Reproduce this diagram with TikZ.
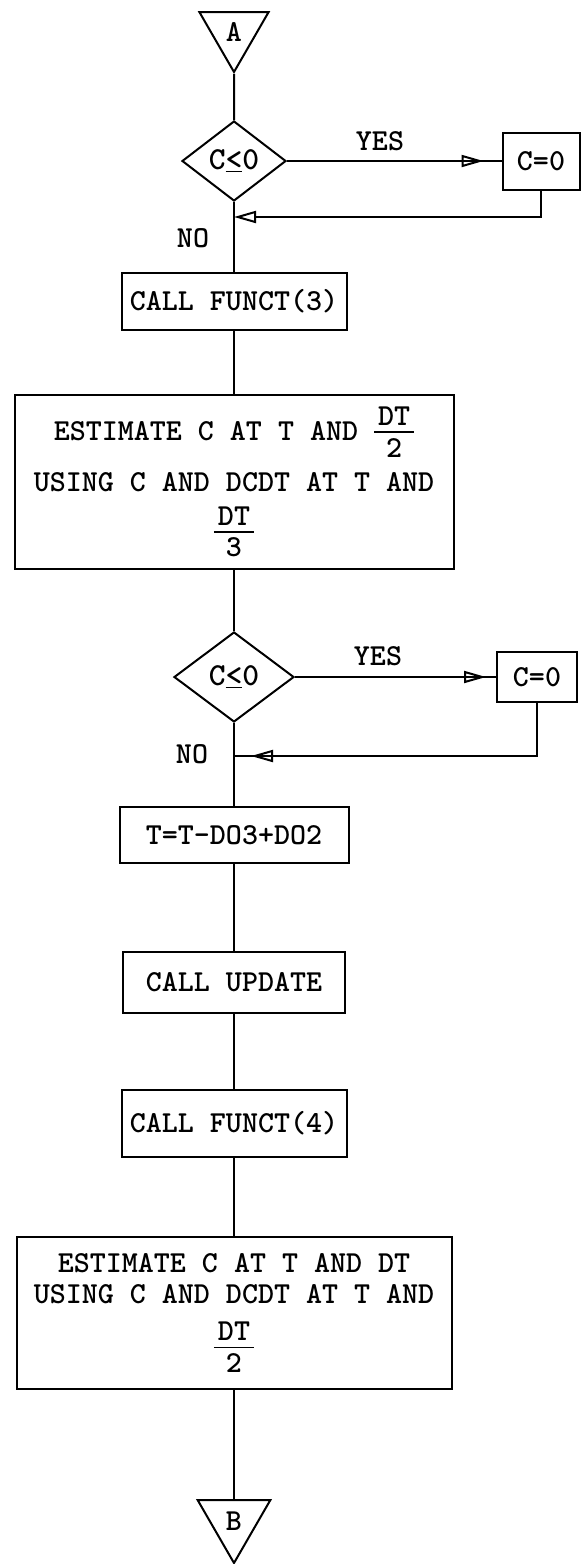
\documentclass[tikz,border=0pt]{standalone}
\usetikzlibrary{shapes.geometric,arrows.meta,decorations.markings}

\newcommand{\frc}[2]{\vbox{\offinterlineskip\halign{\hfil\kern4pt##\kern4pt\hfil\cr#1\cr\noalign{\kern6pt\hrule height 1.8pt\kern5pt}#2\cr}}}

\begin{document}
\begin{tikzpicture}[x=1pt,y=-1pt,line width=2pt,
  font=\fontsize{30.5}{31}\selectfont\ttfamily\bfseries,
  box/.style={draw,rectangle,inner sep=0pt,align=center},
  dec/.style={draw,diamond,inner sep=0pt,font=\fontsize{32}{33}\selectfont\ttfamily\bfseries},
  conn/.style={draw,regular polygon,regular polygon sides=3,shape border rotate=180,inner sep=0pt},
  backarrow/.style={-{Triangle[open,length=22pt,width=12pt]}},
  midtip/.style={postaction={decorate},decoration={markings,mark=at position #1 with {\arrow{Triangle[open,length=22pt,width=12pt]}}}},
  thinline/.style={line width=1.1pt}]
\useasboundingbox (0,0) rectangle (583,1564);

\node[conn,minimum size=80pt] (trA) at (234,32) {A};
\node[dec,minimum width=104pt,minimum height=80pt] (dec1) at (234,161) {C\underline{<}0};
\node[box,minimum width=77pt,minimum height=57pt] (zero1) at (541,161) {C=0};
\coordinate (back1) at (234,217);
\node[box,minimum width=225pt,minimum height=57pt] (funct3) at (234,301) {CALL FUNCT(3)};
\node[box,minimum width=439pt,minimum height=174pt] (est1) at (234,482)
  {ESTIMATE C AT T AND \lower17pt\frc{DT}{2}\\[14pt]
   USING C AND DCDT AT T AND\\[14pt]
   \leavevmode\frc{DT}{3}};
\node[dec,minimum width=120pt,minimum height=90pt] (dec2) at (234,677) {C\underline{<}0};
\node[box,minimum width=80pt,minimum height=50pt] (zero2) at (537,677) {C=0};
\coordinate (back2) at (234,756);
\node[box,minimum width=229pt,minimum height=56pt] (tupd) at (234,835) {T=T-DO3+DO2};
\node[box,minimum width=222pt,minimum height=61pt] (update) at (234,982) {CALL UPDATE};
\node[box,minimum width=225pt,minimum height=67pt] (funct4) at (234,1123) {CALL FUNCT(4)};
\node[box,minimum width=435pt,minimum height=152pt] (est2) at (234,1313)
  {ESTIMATE C AT T AND DT\\
   USING C AND DCDT AT T AND\\[17pt]
   \leavevmode\frc{DT}{2}};
\node[conn,minimum size=84pt] (trB) at (234,1521) {B};

\node (yes1) at (380,141) {YES};
\node (no1) at (193,238) {NO};
\node (yes2) at (378,656) {YES};
\node (no2) at (192,754) {NO};

\draw (trA.south) -- (dec1.north);
\draw[midtip=-18pt] (dec1.east) -- (zero1.west);
\draw[backarrow] (zero1.south) |- (back1);
\draw (dec1.south) -- (funct3.north);
\draw (funct3.south) -- (est1.north);
\draw (est1.south) -- (dec2.north);
\draw[midtip=-10pt] (dec2.east) -- (zero2.west);
\draw[midtip=-17pt] (zero2.south) |- (back2);
\draw (dec2.south) -- (tupd.north);
\draw (tupd.south) -- (update.north);
\draw (update.south) -- (funct4.north);
\draw[thinline] (funct4.south) -- (est2.north);
\draw (est2.south) -- (trB.north);

\end{tikzpicture}
\end{document}
